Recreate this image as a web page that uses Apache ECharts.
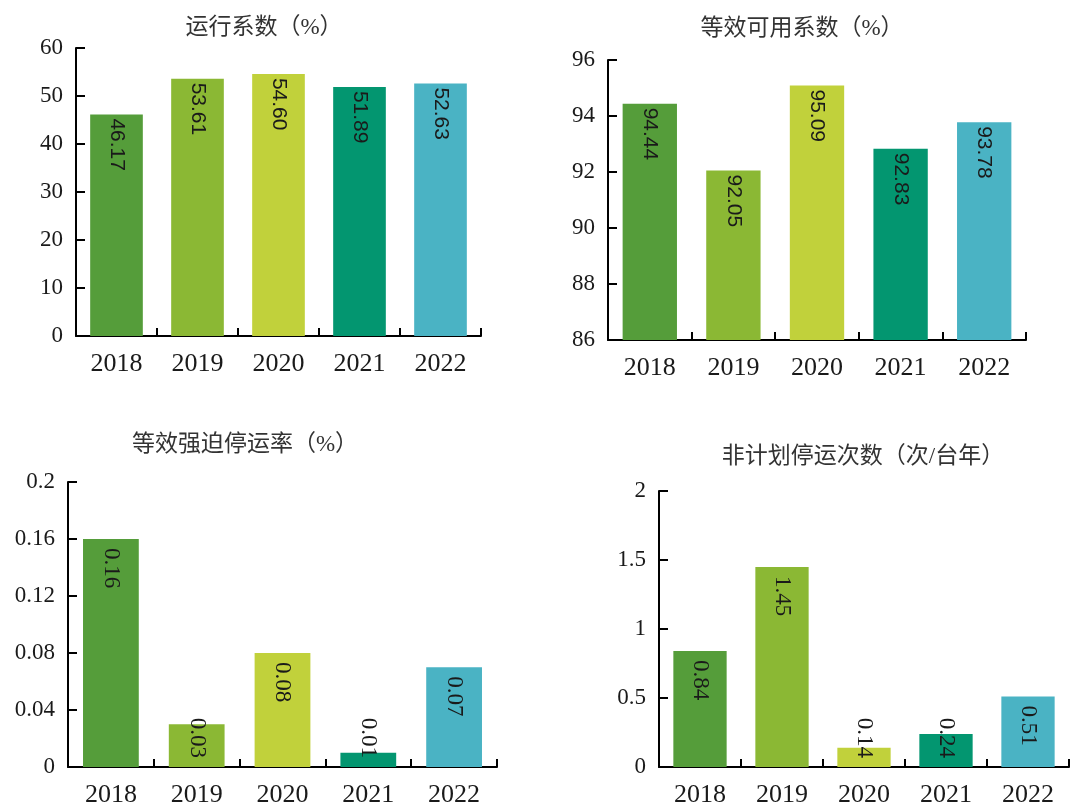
<!DOCTYPE html>
<html>
<head>
<meta charset="utf-8">
<script src="https://cdn.jsdelivr.net/npm/echarts@6/dist/echarts.min.js"></script>
<style>
html,body{margin:0;padding:0;background:#fff;}
#main{width:1072px;height:808px;}
</style>
</head>
<body>
<div id="main"></div>
<script>
// ---- data ----
const years = ['2018', '2019', '2020', '2021', '2022'];
const runFactor = [46.17, 53.61, 54.60, 51.89, 52.63];
const availFactor = [94.44, 92.05, 95.09, 92.83, 93.78];
const forcedOutageRate = [0.16, 0.03, 0.08, 0.01, 0.07];
const unplannedOutages = [0.84, 1.45, 0.14, 0.24, 0.51];
const titles = ['运行系数（%）', '等效可用系数（%）', '等效强迫停运率（%）', '非计划停运次数（次/台年）'];
const yMins = [0, 86, 0, 0];
const yMaxs = [60, 96, 0.2, 2];
const ySteps = [10, 2, 0.04, 0.5];

// ---- styling / layout ----
const barColors = ['#559D3A', '#8BB834', '#C1D13B', '#039670', '#4AB3C4'];
const grids = [
  {left: 76, top: 48, width: 405, height: 288},
  {left: 608, top: 60, width: 418, height: 280},
  {left: 68, top: 482, width: 429, height: 286},
  {left: 659, top: 491, width: 410, height: 277}
];
const titlePos = [[264, 16], [802, 17], [245, 433], [863, 445]];
const labelFonts = ['Liberation Sans', 'Liberation Sans', 'Liberation Serif', 'Liberation Serif'];
const labelDist = [4, 4, 9, 9];
const seriesData = [runFactor, availFactor, forcedOutageRate, unplannedOutages];

const chart = echarts.init(document.getElementById('main'));

const option = {
  backgroundColor: '#fff',
  animation: false,
  title: titles.map((t, i) => ({
    text: t,
    left: titlePos[i][0],
    top: titlePos[i][1],
    textAlign: 'center',
    padding: 0,
    textStyle: {
      fontFamily: 'Liberation Serif, Noto Sans CJK SC',
      fontSize: 23,
      fontWeight: 'normal',
      color: '#333'
    }
  })),
  grid: grids,
  xAxis: grids.map((g, i) => ({
    type: 'category',
    gridIndex: i,
    data: years,
    boundaryGap: true,
    axisLine: {lineStyle: {color: '#000', width: 2}},
    axisTick: {show: true, inside: true, length: 8, lineStyle: {color: '#000', width: 2}},
    axisLabel: {
      margin: 15,
      fontFamily: 'Liberation Serif',
      fontSize: 26,
      color: '#1a1a1a'
    }
  })),
  yAxis: grids.map((g, i) => ({
    type: 'value',
    gridIndex: i,
    min: yMins[i],
    max: yMaxs[i],
    interval: ySteps[i],
    splitLine: {show: false},
    axisLine: {show: true, lineStyle: {color: '#000', width: 2}},
    axisTick: {show: true, inside: true, length: 9, lineStyle: {color: '#000', width: 2}},
    axisLabel: {
      margin: 13,
      fontFamily: 'Liberation Serif',
      fontSize: 23,
      color: '#1a1a1a',
      formatter: v => String(+v.toFixed(2))
    }
  })),
  series: seriesData.map((arr, i) => ({
    type: 'bar',
    xAxisIndex: i,
    yAxisIndex: i,
    barWidth: '65%',
    data: arr.map((v, k) => {
      const frac = (v - yMins[i]) / (yMaxs[i] - yMins[i]);
      const fits = frac * grids[i].height > 52;
      return {
        value: v,
        itemStyle: {color: barColors[k]},
        label: fits ? {
          position: 'insideTop', distance: labelDist[i], align: 'left', verticalAlign: 'middle'
        } : {
          position: 'insideBottom', distance: 9, align: 'right', verticalAlign: 'middle'
        }
      };
    }),
    label: {
      show: true,
      rotate: -90,
      fontFamily: labelFonts[i],
      fontSize: i < 2 ? 21 : 23,
      color: '#1a1a1a',
      formatter: p => p.value.toFixed(2)
    }
  }))
};
chart.setOption(option);
</script>
</body>
</html>
